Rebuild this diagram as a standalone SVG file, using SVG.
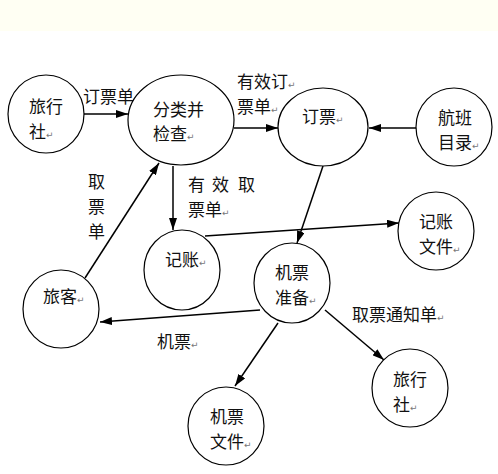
<svg xmlns="http://www.w3.org/2000/svg" width="498" height="474" viewBox="0 0 498 474">
<defs>
<marker id="ah" viewBox="0 0 12 8" refX="12" refY="4" markerWidth="12" markerHeight="8" markerUnits="userSpaceOnUse" orient="auto">
<path d="M0,0 L12,4 L0,8 z" fill="#000"/>
</marker>
<style>
.n{fill:#fff;stroke:#000;stroke-width:1.2}
.t{font-family:"Noto Sans CJK SC","Liberation Sans",sans-serif;font-size:17px;fill:#111}
.r{font-family:"DejaVu Sans",sans-serif;font-size:9px;fill:#777}
.e{stroke:#000;stroke-width:1.5;fill:none;marker-end:url(#ah)}
</style>
</defs>
<rect x="0" y="0" width="498" height="474" fill="#fff"/>
<rect x="0" y="0" width="498" height="31" fill="#FFFFF3"/>
<g id="connectors">
<line class="e" x1="83" y1="114" x2="128" y2="114"/>
<line class="e" x1="234" y1="128" x2="278" y2="128"/>
<line class="e" x1="417" y1="128" x2="369" y2="128"/>
<line class="e" x1="173" y1="166" x2="173" y2="230"/>
<line class="e" x1="85" y1="278" x2="159" y2="163"/>
<line class="e" x1="323" y1="166" x2="297" y2="243"/>
<line class="e" x1="205" y1="236" x2="399" y2="223"/>
<line class="e" x1="260" y1="310" x2="100" y2="322"/>
<line class="e" x1="325" y1="310" x2="384" y2="360"/>
<line class="e" x1="278" y1="323" x2="235" y2="386"/>
<text class="t" x="83" y="103">订票单<tspan class="r">↵</tspan></text>
<text class="t" x="237" y="88">有效订<tspan class="r">↵</tspan></text>
<text class="t" x="237" y="113">票单<tspan class="r">↵</tspan></text>
<text class="t" x="188" y="191">有<tspan x="212">效</tspan><tspan x="238">取</tspan></text>
<text class="t" x="188" y="216">票单<tspan class="r">↵</tspan></text>
<text class="t" x="88" y="188">取</text>
<text class="t" x="88" y="213">票</text>
<text class="t" x="88" y="238">单</text>
<text class="t" x="157" y="348">机票<tspan class="r">↵</tspan></text>
<text class="t" x="352" y="321">取票通知单<tspan class="r">↵</tspan></text>
</g>
<g id="n1">
<ellipse class="n" cx="46" cy="114" rx="38" ry="39"/>
<text class="t" x="29" y="113">旅行</text>
<text class="t" x="29" y="138">社<tspan class="r">↵</tspan></text>
</g>
<g id="n2">
<ellipse class="n" cx="181" cy="120" rx="53" ry="45"/>
<text class="t" x="153" y="116">分类并</text>
<text class="t" x="153" y="140">检查<tspan class="r">↵</tspan></text>
</g>
<g id="n3">
<ellipse class="n" cx="323" cy="127" rx="45" ry="39"/>
<text class="t" x="302" y="123">订票<tspan class="r">↵</tspan></text>
</g>
<g id="n4">
<ellipse class="n" cx="454" cy="127" rx="38" ry="39"/>
<text class="t" x="438" y="124">航班</text>
<text class="t" x="438" y="149">目录<tspan class="r">↵</tspan></text>
</g>
<g id="n5">
<ellipse class="n" cx="182" cy="270" rx="38" ry="40"/>
<text class="t" x="165" y="266">记账<tspan class="r">↵</tspan></text>
</g>
<g id="n6">
<ellipse class="n" cx="436" cy="231" rx="38" ry="39"/>
<text class="t" x="419" y="228">记账</text>
<text class="t" x="419" y="253">文件<tspan class="r">↵</tspan></text>
</g>
<g id="n7">
<ellipse class="n" cx="292" cy="283" rx="38" ry="40"/>
<text class="t" x="275" y="279">机票</text>
<text class="t" x="275" y="304">准备<tspan class="r">↵</tspan></text>
</g>
<g id="n8">
<ellipse class="n" cx="61" cy="309" rx="38" ry="39"/>
<text class="t" x="43" y="303">旅客<tspan class="r">↵</tspan></text>
</g>
<g id="n9">
<ellipse class="n" cx="410" cy="388" rx="38" ry="39"/>
<text class="t" x="393" y="386">旅行</text>
<text class="t" x="393" y="411">社<tspan class="r">↵</tspan></text>
</g>
<g id="n10">
<ellipse class="n" cx="226" cy="426" rx="38" ry="39"/>
<text class="t" x="210" y="423">机票</text>
<text class="t" x="210" y="448">文件<tspan class="r">↵</tspan></text>
</g>
</svg>
